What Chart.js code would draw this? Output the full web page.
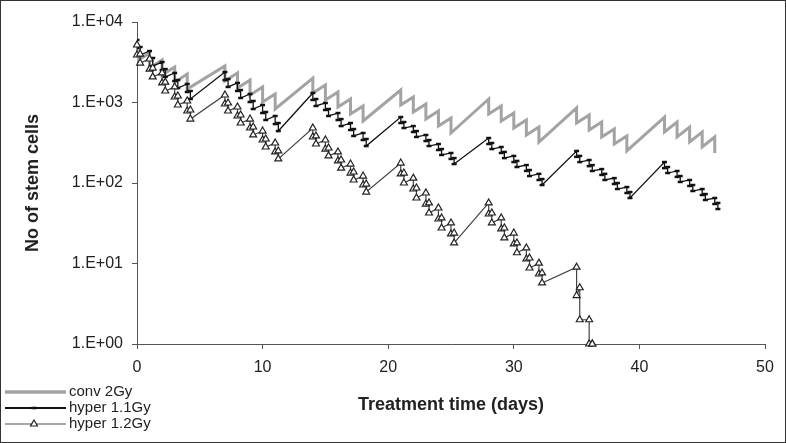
<!DOCTYPE html>
<html>
<head>
<meta charset="utf-8">
<script src="https://cdn.jsdelivr.net/npm/chart.js@4.4.0/dist/chart.umd.min.js"></script>
<style>
  html, body { margin: 0; padding: 0; background: #fff; }
  #wrap { position: relative; width: 786px; height: 443px; }
</style>
</head>
<body>
<div id="wrap"><canvas id="stemChart" width="786" height="443"></canvas></div>
<script>
// treatment days (fractions given Mon-Fri)
const fractionDays = [0, 1, 2, 3, 4, 7, 8, 9, 10, 11, 14, 15, 16, 17, 18, 21, 22, 23, 24, 25,
  28, 29, 30, 31, 32, 35, 36, 37, 38, 39, 42, 43, 44, 45, 46];
const hyper12Days = [0, 1, 2, 3, 4, 7, 8, 9, 10, 11, 14, 15, 16, 17, 18, 21, 22, 23, 24, 25,
  28, 29, 30, 31, 32, 35, 36];
// second daily fraction of hyperfractionation, in days after the first
const secondFractionGap = 0.25;

// conv 2Gy: before / after each fraction
const convCells = [
  5030, 3280, 4120, 2680, 3370, 2200, 2760, 1790, 2260, 1470,
  2840, 1850, 2330, 1515, 1900, 1240, 1560, 1014, 1276, 830,
  2010, 1314, 1650, 1074, 1350, 879, 1105, 719, 905, 589,
  1430, 931, 1171, 762, 958, 623, 784, 510, 642, 418,
  1105, 719, 905, 589, 740, 482, 606, 395, 496, 323,
  855, 556, 699, 455, 572, 373, 468, 305, 384, 250,
  660, 430, 572, 373, 496, 323, 430, 280, 373, 236
];

// hyper 1.1Gy: before/after 1st fraction, before/after 2nd fraction, per day
const hyper11Cells = [
  5980, 4760, 4890, 3890, 4360, 3470, 3570, 2840, 3180, 2530, 2600, 2080, 2330, 1850, 1900, 1515, 1700, 1350, 1390, 1105,
  2390, 1900, 1955, 1560, 1750, 1390, 1430, 1138, 1276, 1014, 1044, 830, 931, 740, 762, 606, 680, 540, 556, 442,
  1314, 1074, 1105, 905, 986, 807, 830, 680, 740, 606, 623, 510, 556, 455, 468, 384, 418, 342, 352, 288,
  660, 556, 572, 482, 510, 430, 442, 373, 395, 332, 342, 288, 305, 257, 264, 223, 236, 199, 204, 172,
  362, 305, 314, 264, 280, 236, 243, 204, 217, 182, 188, 158, 167, 141, 145, 122, 130, 109, 112, 94.4,
  250, 211, 217, 182, 193, 162, 167, 141, 149, 126, 130, 109, 115, 97.1, 100, 84.2, 89.1, 75.1, 77.2, 65.1,
  182, 153, 158, 133, 141, 119, 122, 103, 109, 91.8, 94.4, 79.5, 84.2, 70.9, 72.9, 61.5, 65.1, 54.8, 56.5, 47.5
];

// hyper 1.2Gy: same layout, ends when the last cell is gone
const hyper12Cells = [
  5180, 3890, 4000, 3090, 3470, 2600, 2680, 2080, 2330, 1750, 1790, 1390, 1560, 1171, 1205, 931, 1044, 784, 807, 623,
  1240, 958, 986, 784, 879, 680, 699, 556, 623, 482, 496, 395, 442, 342, 352, 280, 314, 243, 250, 199,
  482, 373, 384, 305, 342, 264, 272, 217, 243, 188, 193, 153, 172, 133, 137, 109, 122, 94.4, 97.1, 77.2,
  177, 130, 133, 100, 115, 84.2, 86.7, 65.1, 75.1, 54.8, 56.5, 42.4, 48.9, 35.7, 36.8, 27.6, 31.9, 23.3, 23.9, 18.0,
  56.5, 41.2, 42.4, 31.9, 36.8, 26.9, 27.6, 20.8, 23.9, 17.5, 18.0, 13.6, 15.6, 11.4, 11.7, 8.79, 10.1, 7.41, 7.63, 5.73,
  9, 4, 5, 2, 2, 1, 1, 1
];

const xTicks = [0, 10, 20, 30, 40, 50];
const yTicks = [1, 10, 100, 1000, 10000];
const yTickLabels = ['1.E+00', '1.E+01', '1.E+02', '1.E+03', '1.E+04'];
const seriesNames = ['conv 2Gy', 'hyper 1.1Gy', 'hyper 1.2Gy'];

const FONT = '"Liberation Sans", Arial, sans-serif';

function convPoints() {
  return fractionDays.flatMap((d, i) => [
    { x: d, y: convCells[2 * i] },
    { x: d, y: convCells[2 * i + 1] }
  ]);
}

function hyperPoints(days, cells) {
  return days.flatMap((d, i) => [
    { x: d, y: cells[4 * i] },
    { x: d, y: cells[4 * i + 1] },
    { x: d + secondFractionGap, y: cells[4 * i + 2] },
    { x: d + secondFractionGap, y: cells[4 * i + 3] }
  ]);
}

// legend in the bottom left corner + picture frame
const legendAndFrame = {
  id: 'legendAndFrame',
  afterDraw(chart) {
    const ctx = chart.ctx;
    const rows = [392, 408, 424];
    ctx.save();
    chart.data.datasets.forEach((ds, i) => {
      const y = rows[i];
      ctx.strokeStyle = ds.legendLine || ds.borderColor;
      ctx.lineWidth = ds.borderWidth + 0.5;
      ctx.beginPath();
      ctx.moveTo(5, y);
      ctx.lineTo(66, y);
      ctx.stroke();
      if (ds.pointRadius > 0) {
        ctx.strokeStyle = ds.pointBorderColor;
        ctx.fillStyle = ds.pointBackgroundColor;
        ctx.lineWidth = ds.pointBorderWidth;
        Chart.helpers.drawPoint(ctx, {
          pointStyle: ds.pointStyle, radius: ds.pointRadius,
          borderWidth: ds.pointBorderWidth, rotation: 0
        }, 34, y);
      }
      ctx.fillStyle = '#222';
      ctx.font = '15px ' + FONT;
      ctx.textBaseline = 'middle';
      ctx.textAlign = 'left';
      ctx.fillText(seriesNames[i], 69, y);
    });
    ctx.strokeStyle = '#333';
    ctx.lineWidth = 1;
    ctx.strokeRect(0.5, 0.5, chart.width - 1, chart.height - 1);
    ctx.restore();
  }
};

const ctx = document.getElementById('stemChart').getContext('2d');
const stemChart = new Chart(ctx, {
  type: 'scatter',
  data: {
    datasets: [
      {
        label: seriesNames[0],
        data: convPoints(),
        showLine: true,
        borderColor: '#a3a3a3',
        borderWidth: 3,
        pointRadius: 0,
        order: 3
      },
      {
        label: seriesNames[1],
        data: hyperPoints(fractionDays, hyper11Cells),
        showLine: true,
        borderColor: '#111',
        borderWidth: 1.3,
        pointStyle: 'line',
        pointRadius: 2.5,
        pointBorderWidth: 2.5,
        pointBorderColor: '#111',
        pointBackgroundColor: '#111',
        order: 2
      },
      {
        label: seriesNames[2],
        data: hyperPoints(hyper12Days, hyper12Cells),
        showLine: true,
        borderColor: '#444',
        legendLine: '#8a8a8a',
        borderWidth: 1.2,
        pointStyle: 'triangle',
        pointRadius: 4,
        pointBorderWidth: 1.2,
        pointBorderColor: '#222',
        pointBackgroundColor: '#fff',
        clip: false,
        order: 1
      }
    ]
  },
  options: {
    responsive: false,
    animation: false,
    devicePixelRatio: 1,
    layout: { padding: { top: 22, right: 21, left: 0, bottom: 0 } },
    plugins: {
      legend: { display: false },
      tooltip: { enabled: false }
    },
    elements: { line: { tension: 0 } },
    scales: {
      x: {
        type: 'linear',
        min: 0,
        max: 50,
        afterBuildTicks: s => { s.ticks = xTicks.map(v => ({ value: v })); },
        afterFit: s => { s.height = 99; },
        ticks: { font: { size: 16, family: FONT }, color: '#222', padding: 9 },
        grid: { drawOnChartArea: false, drawTicks: true, tickLength: 5, color: '#555' },
        border: { color: '#555', width: 1 },
        title: {
          display: true,
          text: 'Treatment time (days)',
          color: '#222',
          font: { size: 18, weight: 'bold', family: FONT },
          padding: { bottom: 27 }
        }
      },
      y: {
        type: 'logarithmic',
        min: 1,
        max: 10000,
        afterBuildTicks: s => { s.ticks = yTicks.map(v => ({ value: v })); },
        afterFit: s => { s.width = 137; },
        ticks: {
          font: { size: 16, family: FONT },
          color: '#222',
          padding: 9,
          callback: v => yTickLabels[yTicks.indexOf(v)]
        },
        grid: { drawOnChartArea: false, drawTicks: true, tickLength: 5, color: '#555' },
        border: { color: '#555', width: 1 },
        title: {
          display: true,
          text: 'No of stem cells',
          color: '#222',
          font: { size: 18, weight: 'bold', family: FONT },
          padding: { top: 22 }
        }
      }
    }
  },
  plugins: [legendAndFrame]
});
</script>
</body>
</html>
